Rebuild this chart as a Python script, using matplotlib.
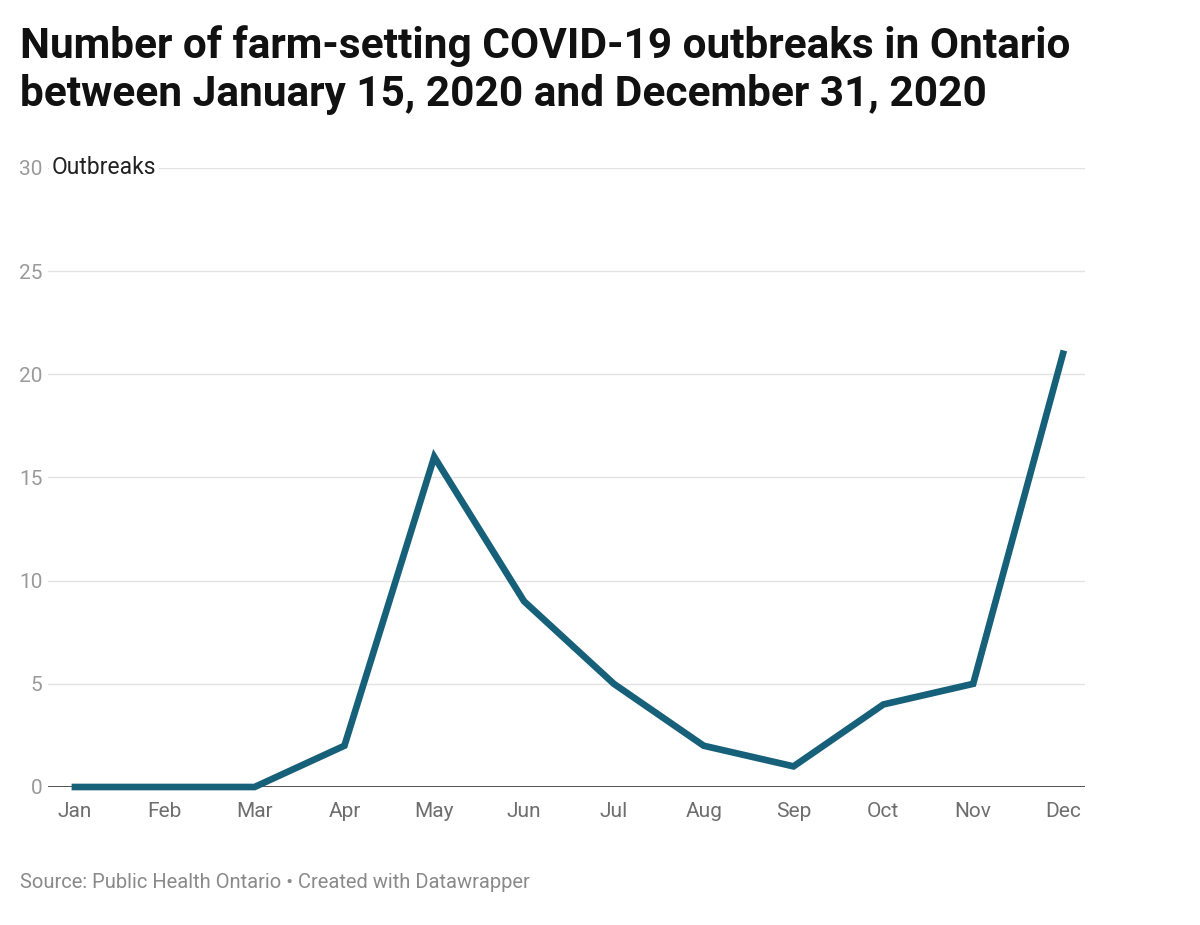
import matplotlib
matplotlib.use("Agg")
import matplotlib.pyplot as plt

months = ["Jan","Feb","Mar","Apr","May","Jun","Jul","Aug","Sep","Oct","Nov","Dec"]
outbreaks = [0,0,0,2,16,9,5,2,1,4,5,21]
yticks = [0,5,10,15,20,25,30]

plt.rcParams['font.family'] = ['Roboto', 'DejaVu Sans']
fig = plt.figure(figsize=(12, 9.25), dpi=100)
ax = fig.add_axes([48/1200, 1-787/925, (1085-48)/1200, (787-168)/925])
x = list(range(len(months)))
ax.plot(x, outbreaks, color="#17607a", lw=4.8, solid_joinstyle="miter", clip_on=False, zorder=3)
ax.set_xlim(-0.30, 11.245)
ax.set_ylim(0, 30)
for s in ax.spines.values():
    s.set_visible(False)
for v in yticks[1:]:
    ax.axhline(v, color="#e3e3e3", lw=1, zorder=1)
ax.axhline(0, color="#333333", lw=1.2, zorder=2)
ax.set_yticks(yticks)
ax.set_yticklabels([str(v) for v in yticks])
ax.tick_params(axis='y', length=0, pad=4, labelsize=15, labelcolor="#9a9a9a")
ax.set_xticks(x)
ax.set_xticklabels(months)
ax.tick_params(axis='x', length=0, pad=11, labelsize=15, labelcolor="#6e6e6e")
ax.text(-0.26, 30, "Outbreaks", fontsize=16.5, color="#222222", va="center", ha="left",
        bbox=dict(facecolor="white", edgecolor="none", pad=2), zorder=4)
fig.text(20/1200, 1-70/925, "Number of farm-setting COVID-19 outbreaks in Ontario\nbetween January 15, 2020 and December 31, 2020",
         fontsize=30.5, fontweight="bold", color="#111111", va="center", ha="left", linespacing=1.2)
fig.text(20/1200, 1-883/925, "Source: Public Health Ontario • Created with Datawrapper",
         fontsize=14.5, color="#8a8a8a", va="center", ha="left")
fig.savefig("out.png", dpi=100, facecolor="white")
